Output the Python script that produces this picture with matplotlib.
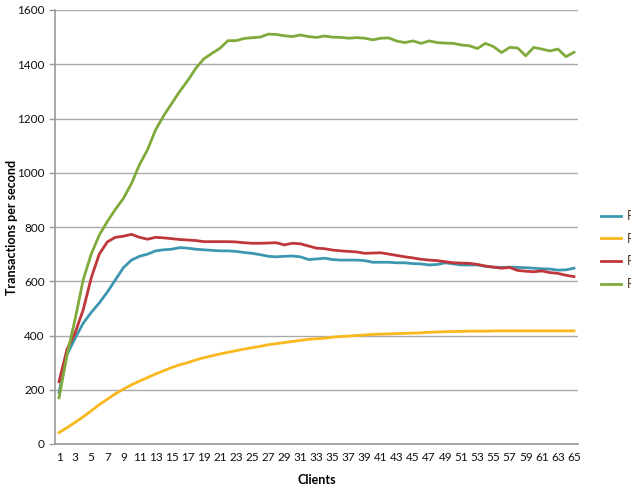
import numpy as np
from matplotlib import pyplot as plt

clients = np.arange(1, 66)

blue = [190, 330, 390, 445, 485, 520, 560, 605, 650, 678, 692, 700, 712, 716, 718, 724, 722, 718, 716, 714,
        712, 712, 710, 706, 703, 698, 692, 690, 692, 693, 690, 680, 682, 685, 680, 678, 678, 678, 676, 670,
        670, 670, 668, 668, 665, 664, 660, 662, 668, 664, 660, 660, 660, 655, 652, 651, 652, 651, 650, 648,
        646, 645, 641, 642, 648]
yellow = [42, 60, 80, 100, 122, 145, 165, 185, 202, 218, 232, 245, 258, 270, 282, 292, 300, 310, 318, 325,
          332, 338, 344, 350, 355, 360, 366, 370, 374, 378, 382, 386, 388, 390, 394, 396, 398, 400, 402, 404,
          405, 406, 407, 408, 409, 410, 412, 413, 414, 415, 415, 416, 416, 416, 417, 417, 417, 417, 417, 417,
          417, 417, 417, 417, 417]
red = [230, 350, 410, 494, 612, 700, 745, 762, 766, 773, 762, 755, 762, 760, 757, 754, 752, 750, 746, 746,
       746, 746, 745, 742, 740, 740, 741, 742, 734, 740, 738, 730, 722, 720, 715, 712, 710, 708, 703, 704,
       705, 700, 695, 690, 686, 681, 678, 676, 672, 668, 667, 666, 662, 656, 652, 648, 651, 640, 637, 635,
       638, 632, 629, 622, 617]
green = [170, 330, 460, 605, 700, 770, 820, 865, 905, 960, 1030, 1085, 1158, 1210, 1255, 1300, 1340, 1385,
         1420, 1440, 1459, 1487, 1487, 1495, 1498, 1500, 1511, 1510, 1505, 1502, 1508, 1502, 1499, 1504, 1500,
         1499, 1496, 1498, 1496, 1490, 1496, 1497, 1485, 1480, 1486, 1477, 1486, 1480, 1478, 1477, 1471, 1468,
         1458, 1477, 1465, 1443, 1462, 1460, 1431, 1462, 1456, 1449, 1456, 1428, 1444]

series = [("Run A", blue, "#3d97b0"), ("Run B", yellow, "#f8b81e"),
          ("Run C", red, "#c0373a"), ("Run D", green, "#80aa3c")]

plt.rcParams['font.family'] = ['Lato', 'DejaVu Sans']

fig = plt.figure(figsize=(6.31, 4.92), dpi=100)
ax = fig.add_axes([55 / 631, 1 - 444 / 492, 523 / 631, 434 / 492])

for name, vals, col in series:
    ax.plot(clients, vals, color=col, lw=2.0, label=name)

ax.set_xlim(0.5, 65.5)
ax.set_ylim(0, 1600)
ax.set_yticks(range(0, 1601, 200))
ax.set_xticks(clients[::2])
ax.tick_params(axis='x', length=0, labelsize=8.5, pad=6, colors='#111111')
ax.tick_params(axis='y', length=4, width=1, color='#999999', labelsize=8.5, colors='#111111')
ax.grid(axis='y', color='#aaaaaa', lw=1)
ax.set_axisbelow(True)
for s in ['top', 'right']:
    ax.spines[s].set_visible(False)
for s in ['left', 'bottom']:
    ax.spines[s].set_color('#999999')
    ax.spines[s].set_linewidth(1.2)

ax.set_xlabel("Clients", fontsize=9, fontweight='bold', labelpad=8)
ax.set_ylabel("Transactions per second", fontsize=9, fontweight='bold')
ax.yaxis.set_label_coords(-37 / 523, 0.5)

# legend runs off the right edge, as in the source image
fig.legend(loc='upper left', bbox_to_anchor=(595 / 631, 1 - 204 / 492), frameon=False,
           fontsize=9, handlelength=1.6, handletextpad=0.45, labelspacing=0.85, borderpad=0,
           labelcolor='#5a3a20')

plt.savefig('out.png', dpi=100)
